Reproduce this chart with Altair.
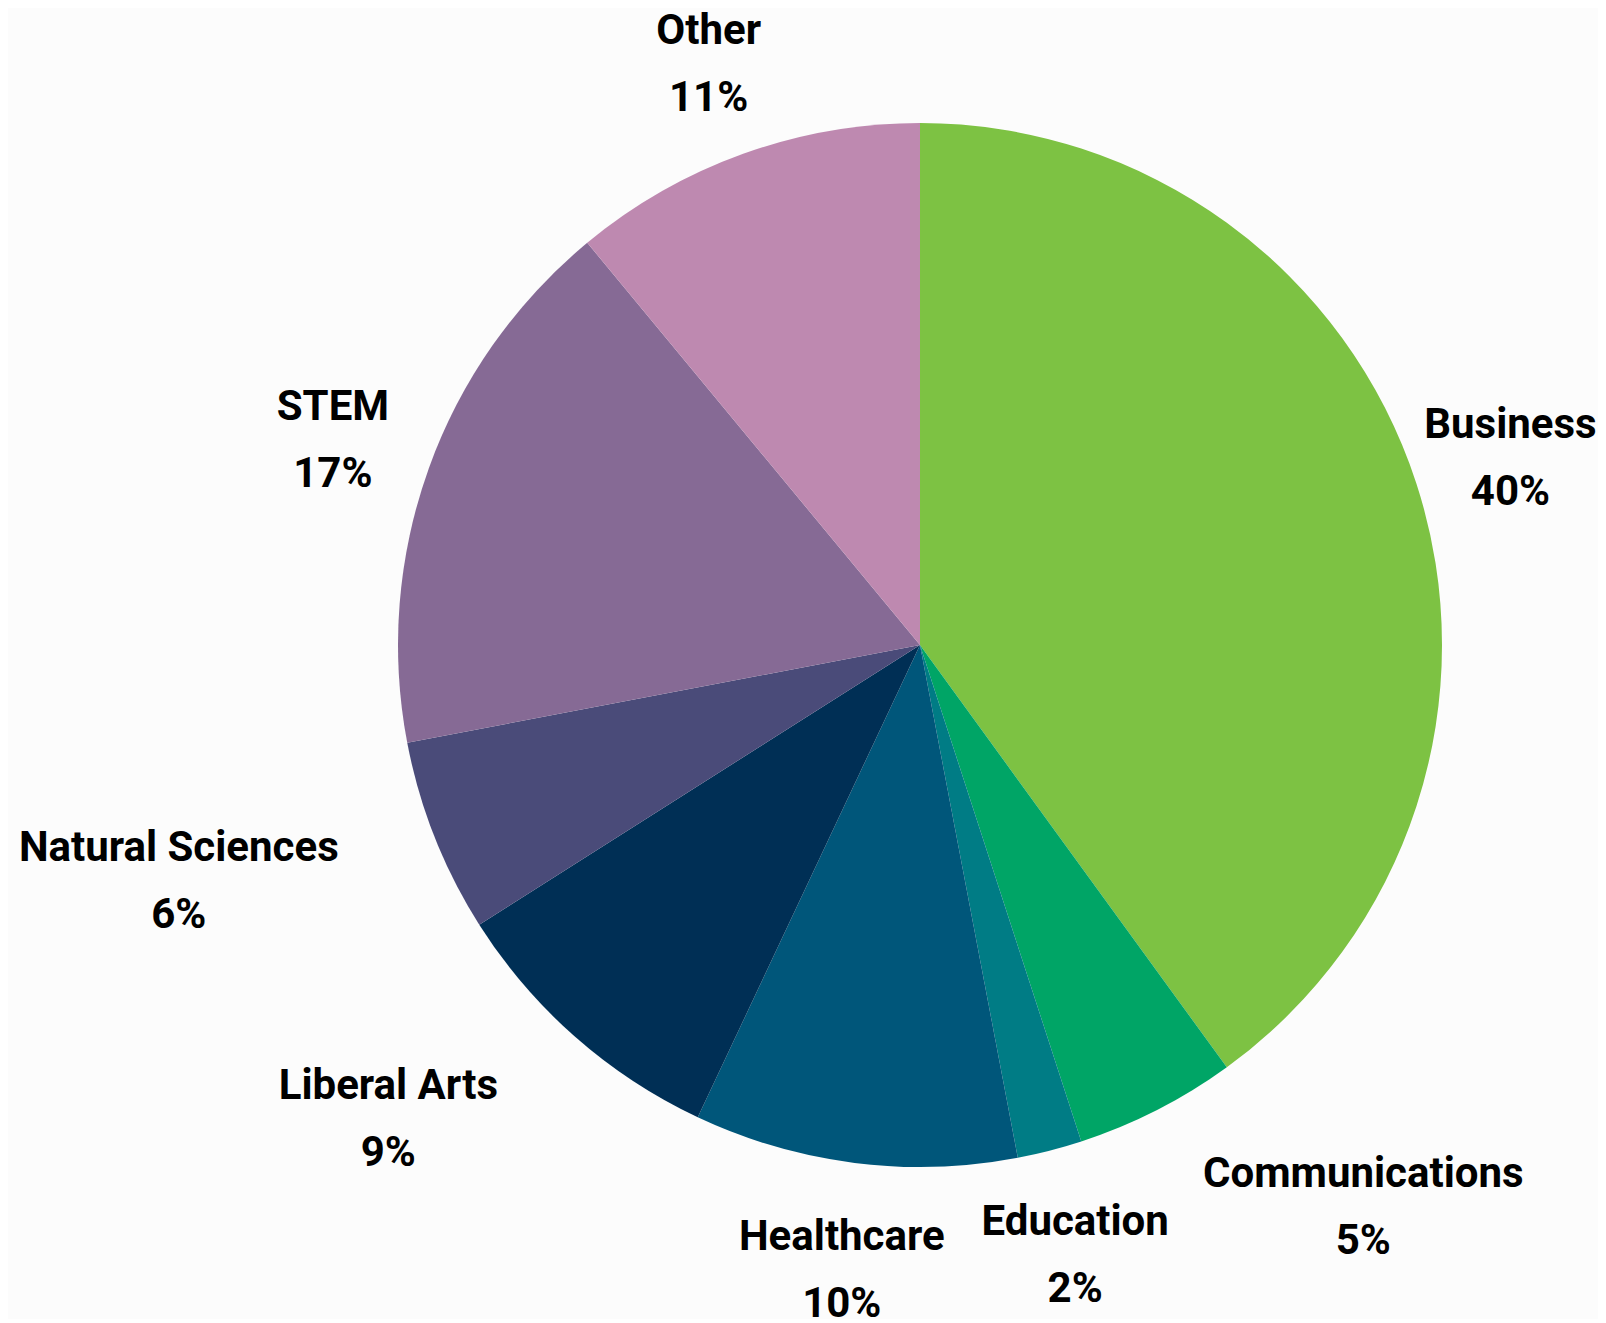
import altair as alt
import pandas as pd

categories = ["Business", "Communications", "Education", "Healthcare",
              "Liberal Arts", "Natural Sciences", "STEM", "Other"]
shares = [40, 5, 2, 10, 9, 6, 17, 11]
colors = ["#7dc243", "#00a566", "#007c85", "#00567a",
          "#002f55", "#4a4b79", "#866a95", "#be89b0"]

# labels pushed sideways (like outside-end labels that are anchored at their edge)
label_shift = {"Communications": 160, "Natural Sciences": -161, "Liberal Arts": -119,
               "Business": -3}

df = pd.DataFrame({"category": categories, "value": shares,
                   "idx": list(range(len(categories)))})

FONT = "Roboto"

base = alt.Chart(df).transform_calculate(
    label="datum.category + '\\n' + datum.value + '%'"
).encode(
    theta=alt.Theta("value:Q", stack=True),
    order=alt.Order("idx:Q"),
)

arcs = base.mark_arc(stroke=None).encode(
    color=alt.Color("category:N", sort=categories,
                    scale=alt.Scale(domain=categories, range=colors),
                    legend=None)
)

def text_layer(names, dx):
    return base.mark_text(radius=624, align="center", baseline="middle",
                          dx=dx, dy=-27,
                          font=FONT, fontWeight="bold", fontSize=42,
                          lineBreak="\n", lineHeight=67, color="#000000").encode(
        text=alt.condition(alt.FieldOneOfPredicate(field="category", oneOf=names),
                           alt.Text("label:N"), alt.value(""))
    )

plain = [c for c in categories if c not in label_shift]
layers = [arcs, text_layer(plain, 0)]
for name, shift in label_shift.items():
    layers.append(text_layer([name], shift))

chart = alt.layer(*layers).properties(
    width=1044, height=1044,
    padding={"left": 390, "top": 115, "right": 156, "bottom": 152},
    autosize=alt.AutoSizeParams(type="none"),
    background="#fcfcfc",
).configure_view(stroke=None)

chart.save("out.html", embed_options={"renderer": "svg", "actions": False})
